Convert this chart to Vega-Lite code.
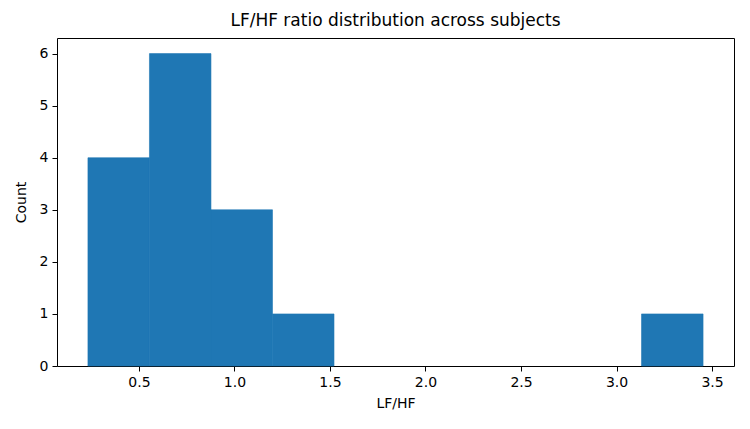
{
  "$schema": "https://vega.github.io/schema/vega-lite/v6.json",
  "width": 677,
  "height": 328,
  "autosize": {"type": "none"},
  "padding": {"left": 57, "top": 38, "right": 16, "bottom": 63},
  "background": "white",
  "title": {"text": "LF/HF ratio distribution across subjects", "fontSize": 17, "font": "DejaVu Sans", "fontWeight": "normal", "color": "black", "offset": 8},
  "config": {
    "view": {"stroke": "black", "strokeWidth": 1},
    "axis": {
      "labelFont": "DejaVu Sans", "titleFont": "DejaVu Sans",
      "labelFontSize": 14, "titleFontSize": 14, "titleFontWeight": "normal",
      "labelColor": "black", "titleColor": "black",
      "tickColor": "black", "tickSize": 5, "domain": false, "grid": false,
      "labelPadding": 4
    }
  },
  "data": {"values": [
    {"bin_start": 0.233, "bin_end": 0.555, "count": 4},
    {"bin_start": 0.555, "bin_end": 0.877, "count": 6},
    {"bin_start": 0.877, "bin_end": 1.199, "count": 3},
    {"bin_start": 1.199, "bin_end": 1.521, "count": 1},
    {"bin_start": 1.521, "bin_end": 1.843, "count": 0},
    {"bin_start": 1.843, "bin_end": 2.165, "count": 0},
    {"bin_start": 2.165, "bin_end": 2.487, "count": 0},
    {"bin_start": 2.487, "bin_end": 2.809, "count": 0},
    {"bin_start": 2.809, "bin_end": 3.131, "count": 0},
    {"bin_start": 3.131, "bin_end": 3.453, "count": 1}
  ]},
  "transform": [{"filter": "datum.count > 0"}],
  "mark": {"type": "bar", "color": "#1f77b4", "stroke": "#1f77b4", "strokeWidth": 0.6},
  "encoding": {
    "x": {"field": "bin_start", "type": "quantitative", "title": "LF/HF",
      "scale": {"domain": [0.071, 3.615], "nice": false, "zero": false},
      "axis": {"values": [0.5, 1.0, 1.5, 2.0, 2.5, 3.0, 3.5], "format": ".1f", "titlePadding": 7}},
    "x2": {"field": "bin_end"},
    "y": {"field": "count", "type": "quantitative", "title": "Count",
      "scale": {"domain": [0, 6.3], "nice": false},
      "axis": {"values": [0, 1, 2, 3, 4, 5, 6], "titlePadding": 11}},
    "y2": {"datum": 0}
  }
}
